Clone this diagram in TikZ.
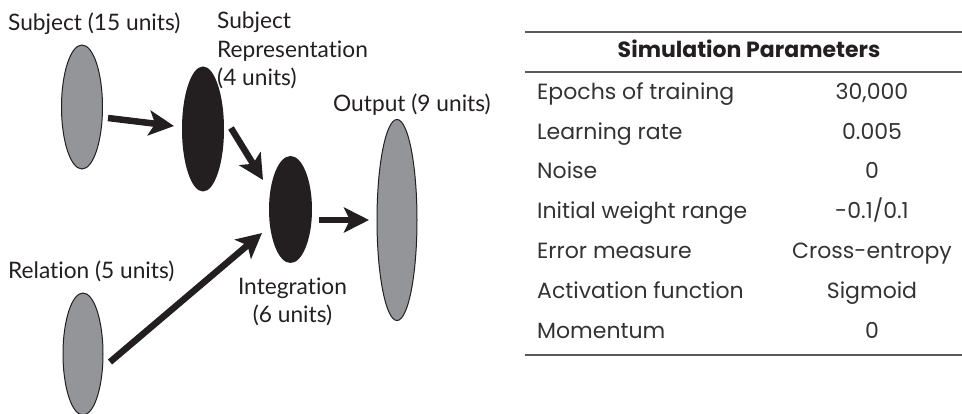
\documentclass[tikz,border=0pt]{standalone}
\usepackage{fontspec}
\setmainfont{Lato}[Ligatures=NoCommon]
\newfontfamily\tabfont{Poppins}
\usetikzlibrary{arrows.meta,calc,shapes.geometric}
\definecolor{ink}{HTML}{231F20}
\definecolor{unitgray}{HTML}{939598}
\definecolor{rulegray}{HTML}{58595B}
\definecolor{tabink}{HTML}{333333}
\begin{document}
\begin{tikzpicture}[x=1pt,y=-1pt,
  lab/.style={font=\fontsize{22.7}{27}\selectfont, text=ink, inner sep=0pt, anchor=base west},
  labc/.style={lab, anchor=base},
  grayunit/.style={ellipse, draw=ink, line width=1pt, fill=unitgray, inner sep=0pt},
  blackunit/.style={ellipse, fill=ink, inner sep=0pt},
  arr/.style={line width=6.5pt, draw=ink, -{Stealth[length=25pt,width=25pt,inset=6pt]}},
  tabtxt/.style={font=\tabfont\fontsize{22}{26}\selectfont, text=tabink, inner sep=0pt, anchor=base west},
  tabval/.style={tabtxt, anchor=base},
  tabrule/.style={draw=rulegray, line width=2pt}
]
\useasboundingbox (0,0) rectangle (962,414);

% units
\node[grayunit, minimum width=41pt, minimum height=124pt] (subj) at (82,107) {};
\node[blackunit, minimum width=42pt, minimum height=125pt] (srep) at (203,129) {};
\node[blackunit, minimum width=43pt, minimum height=107pt] (integ) at (290.5,209.5) {};
\node[grayunit, minimum width=40pt, minimum height=201pt] (outp) at (397,220) {};
\node[grayunit, minimum width=40pt, minimum height=122pt] (rel) at (83,354) {};

% labels
\node[lab] (subjlab) at (8,31) {Subject (15 units)};
\node[lab] (sreplabA) at (217,29) {Subject};
\node[lab] (sreplabB) at (217,58) {Representation};
\node[lab] (sreplabC) at (217,86) {(4 units)};
\node[lab] (outlab) at (333,112) {Output (9 units)};
\node[lab] (rellab) at (8,279) {Relation (5 units)};
\node[labc] (intlabA) at (292.5,295) {Integration};
\node[labc] (intlabB) at (292.5,323) {(6 units)};

% connectors
\draw[arr] ($(subj.center)+(26,11)$) -- ($(srep.center)+(-29,-3)$);
\draw[arr] ($(srep.center)+(28,-1)$) -- ($(integ.center)+(-27.5,-29.5)$);
\draw[arr] ($(rel.center)+(27,8)$) -- ($(integ.center)+(-28.5,23.5)$);
\draw[arr] ($(integ.center)+(28.5,10.5)$) -- ($(outp.center)+(-28,0)$);

% table
\coordinate (tl) at (525,32);
\coordinate (tr) at (962,32);
\draw[tabrule] (tl) -- (tr);
\draw[tabrule] ($(tl)+(0,40)$) -- ($(tr)+(0,40)$);
\draw[tabrule] ($(tl)+(0,323)$) -- ($(tr)+(0,323)$);
\node[tabval, font=\tabfont\bfseries\fontsize{22}{26}\selectfont, text=ink] (head) at (749,58) {Simulation Parameters};

\node[tabtxt] (r1l) at (537,100) {Epochs of training};
\node[tabval] (r1v) at (872,100) {30,000};
\node[tabtxt] (r2l) at (537,139.5) {Learning rate};
\node[tabval] (r2v) at (872,139.5) {0.005};
\node[tabtxt] (r3l) at (537,179) {Noise};
\node[tabval] (r3v) at (872,179) {0};
\node[tabtxt] (r4l) at (537,219) {Initial weight range};
\node[tabval] (r4v) at (872,219) {-0.1/0.1};
\node[tabtxt] (r5l) at (537,259) {Error measure};
\node[tabval] (r5v) at (872,259) {Cross-entropy};
\node[tabtxt] (r6l) at (537,299) {Activation function};
\node[tabval] (r6v) at (872,299) {Sigmoid};
\node[tabtxt] (r7l) at (537,338) {Momentum};
\node[tabval] (r7v) at (872,338) {0};
\end{tikzpicture}
\end{document}
